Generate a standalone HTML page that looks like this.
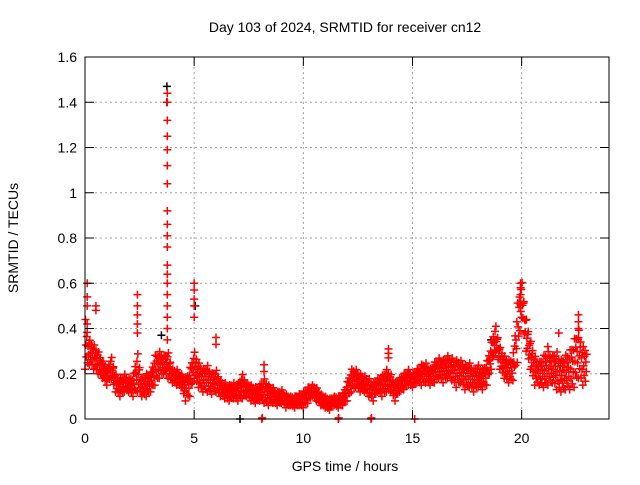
<!DOCTYPE html>
<html><head><meta charset="utf-8"><style>
body{margin:0;background:#fff}
svg text{font-family:"Liberation Sans",sans-serif;font-size:14px;fill:#000}
</style></head><body>
<svg id="chart" width="640" height="480">
<text x="345" y="32" text-anchor="middle">Day 103 of 2024, SRMTID for receiver cn12</text>
<text x="345" y="471" text-anchor="middle">GPS time / hours</text>
<text transform="translate(18,238) rotate(-90)" text-anchor="middle">SRMTID / TECUs</text>
<g id="grid"></g>
<g id="marks"></g>
<rect x="85" y="57" width="524" height="362" fill="none" stroke="#000"/>
<g id="axes"></g>
</svg>
<script>
const xTicks=[0,5,10,15,20];
const yTicks=[0,0.2,0.4,0.6,0.8,1,1.2,1.4,1.6];
const yTickLabels=["0","0.2","0.4","0.6","0.8","1","1.2","1.4","1.6"];
const stepTimes=[0,0.2,0.4,0.6,0.8,1,1.2,1.4,1.6,1.8,2,2.2,2.4,2.6,2.8,3,3.2,3.4,3.6,3.8,4,4.2,4.4,4.6,4.8,5,5.2,5.4,5.6,5.8,6,6.2,6.4,6.6,6.8,7,7.2,7.4,7.6,7.8,8,8.2,8.4,8.6,8.8,9,9.2,9.4,9.6,9.8,10,10.2,10.4,10.6,10.8,11,11.2,11.4,11.6,11.8,12,12.2,12.4,12.6,12.8,13,13.2,13.4,13.6,13.8,14,14.2,14.4,14.6,14.8,15,15.2,15.4,15.6,15.8,16,16.2,16.4,16.6,16.8,17,17.2,17.4,17.6,17.8,18,18.2,18.4,18.6,18.8,19,19.2,19.4,19.6,19.8,20,20.2,20.4,20.6,20.8,21,21.2,21.4,21.6,21.8,22,22.2,22.4,22.6,22.8];
const lowVals=[.22,.24,.22,.20,.18,.15,.18,.12,.10,.12,.12,.10,.12,.10,.10,.12,.15,.18,.20,.18,.16,.15,.14,.08,.10,.18,.14,.12,.12,.11,.12,.10,.09,.08,.09,.08,.09,.10,.08,.07,.08,.07,.06,.07,.06,.07,.05,.06,.05,.06,.05,.07,.10,.08,.06,.05,.04,.06,.05,.06,.08,.12,.14,.12,.12,.10,.08,.12,.10,.12,.12,.08,.12,.13,.15,.14,.16,.15,.16,.15,.16,.18,.16,.18,.17,.14,.16,.13,.14,.12,.14,.13,.15,.22,.30,.22,.18,.16,.17,.25,.45,.30,.22,.15,.15,.14,.15,.16,.13,.12,.13,.13,.14,.18,.15];
const highVals=[.45,.35,.33,.30,.26,.22,.28,.20,.18,.20,.18,.19,.30,.18,.20,.20,.28,.30,.28,.30,.22,.22,.20,.18,.22,.30,.25,.22,.24,.20,.22,.17,.16,.15,.16,.15,.20,.16,.15,.14,.15,.18,.15,.14,.12,.13,.11,.10,.10,.11,.12,.14,.15,.14,.11,.10,.09,.10,.10,.11,.16,.22,.22,.20,.19,.18,.16,.18,.19,.22,.20,.16,.18,.20,.22,.20,.22,.24,.25,.22,.25,.27,.26,.28,.27,.26,.26,.24,.25,.22,.24,.22,.25,.33,.42,.32,.28,.26,.27,.50,.62,.45,.35,.28,.25,.28,.30,.28,.30,.26,.28,.30,.35,.40,.32];
const spikeTimes=[0.1,0.1,0.1,0.1,0.5,0.5,2.4,2.4,2.4,2.4,2.4,3.77,3.77,3.77,3.77,3.77,3.77,3.77,3.77,3.77,3.77,3.77,3.77,3.77,3.77,3.77,3.77,3.77,3.77,3.77,5.0,5.0,5.0,5.0,5.0,6.0,6.0,8.2,8.2,13.9,13.9,13.9,19.95,19.95,19.95,19.95,22.6,22.6,22.6,22.6,21.7,21.2,8.1,8.12,11.6,11.62,13.1,13.12,15.1];
const spikeVals=[.60,.54,.50,.42,.50,.48,.55,.50,.46,.42,.38,1.44,1.40,1.32,1.25,1.19,1.12,1.04,.92,.86,.81,.76,.68,.64,.60,.55,.50,.45,.40,.35,.60,.57,.53,.50,.45,.36,.33,.24,.21,.31,.29,.27,.60,.58,.55,.52,.46,.43,.40,.36,.38,.32,0,0.005,0,0.005,0,0.005,0];
const blackTimes=[3.75,3.75,3.5,5.05,18.6,7.1];
const blackVals=[1.47,1.40,.37,.50,.35,0];
const X=t=>85+t*524/24, Y=v=>419-v*226.25;
const NS="http://www.w3.org/2000/svg";
const grid=document.getElementById('grid'),axes=document.getElementById('axes'),marks=document.getElementById('marks');
function line(p,x1,y1,x2,y2,st,dash){const l=document.createElementNS(NS,'line');l.setAttribute('x1',x1);l.setAttribute('y1',y1);l.setAttribute('x2',x2);l.setAttribute('y2',y2);l.setAttribute('stroke',st);if(dash)l.setAttribute('stroke-dasharray',dash);p.appendChild(l);return l;}
function txt(p,x,y,s,a){const t=document.createElementNS(NS,'text');t.setAttribute('x',x);t.setAttribute('y',y);t.setAttribute('text-anchor',a);t.textContent=s;p.appendChild(t);return t;}
yTicks.forEach((v,i)=>{const y=Y(v);
 if(i>0&&i<yTicks.length-1){const g=line(grid,85,y,609,y,'#a0a0a0','2,3');}
 line(axes,85,y,94,y,'#000');line(axes,600,y,609,y,'#000');
 const t=txt(axes,77,y+5,yTickLabels[i],'end');
 
 });
xTicks.forEach((v,i)=>{const x=X(v);
 if(i>0){const g=line(grid,x,57,x,419,'#a0a0a0','2,3');}
 line(axes,x,410,x,419,'#000');line(axes,x,57,x,66,'#000');
 const t=txt(axes,x,443,String(v),'middle');
 
 });
function plus(t,v,c){const x=X(t),y=Y(v);const p=document.createElementNS(NS,'path');
 p.setAttribute('d',`M${x-4} ${y}H${x+4}M${x} ${y-4}V${y+4}`);p.setAttribute('stroke',c);p.setAttribute('stroke-width','1.5');
 
 
 marks.appendChild(p);}
blackTimes.forEach((t,i)=>plus(t,blackVals[i],'#000'));
const pat=[0,1,0.5,0.25,0.75,0.9,0.1,0.6,0.35,0.8];
stepTimes.forEach((t,i)=>{const lo=lowVals[i],hi=highVals[i];
 const nlo=i+1<lowVals.length?lowVals[i+1]:lo,nhi=i+1<highVals.length?highVals[i+1]:hi;
 pat.forEach((f,k)=>{const s=k/pat.length;const l=lo+(nlo-lo)*s,h=hi+(nhi-hi)*s;plus(t+0.2*s,l+(h-l)*f,'#ff0000');});});
spikeTimes.forEach((t,i)=>plus(t,spikeVals[i],'#ff0000'));
</script>
</body></html>
